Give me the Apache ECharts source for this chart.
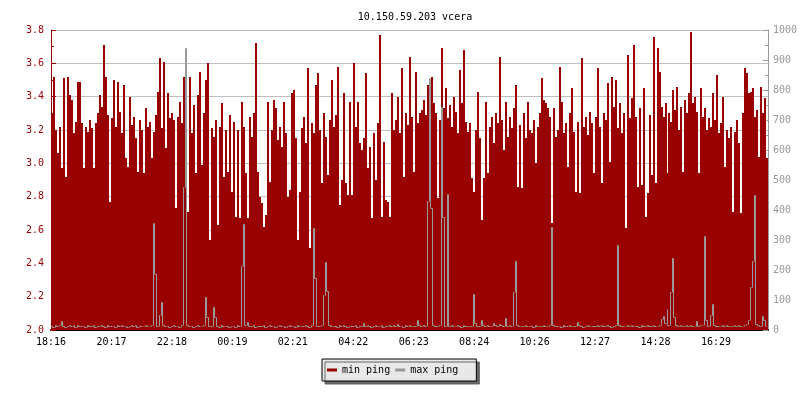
<!DOCTYPE html>
<html>
<head>
<meta charset="utf-8">
<script src="https://cdn.jsdelivr.net/npm/echarts@6/dist/echarts.min.js"></script>
<style>html,body{margin:0;padding:0;background:#fff;}#c{width:800px;height:400px;}</style>
</head>
<body>
<div id="c"></div>
<script>
const titleText = '10.150.59.203 vcera';
const seriesNames = ['min ping', 'max ping'];
const timeLabels = ['18:16','20:17','22:18','00:19','02:21','04:22','06:23','08:24','10:26','12:27','14:28','16:29'];
const stepMinutes = 4;
const labelStepMinutes = 121;
const spanMinutes = 1435;
const leftTicks = { min: 2.0, max: 3.8, interval: 0.2 };
const rightTicks = { min: 0, max: 1000, interval: 100 };

const minPing = [
3.30,3.52,3.20,3.06,3.22,2.97,3.51,2.92,3.52,3.41,
3.38,3.18,3.25,3.49,3.49,3.24,2.97,3.22,3.19,3.26,
3.21,2.97,3.24,3.30,3.41,3.34,3.71,3.52,3.29,2.77,
3.27,3.50,3.22,3.49,3.31,3.18,3.47,3.03,2.98,3.40,
3.23,3.28,3.15,2.95,3.26,3.20,2.94,3.33,3.22,3.25,
3.03,3.19,3.29,3.43,3.63,3.21,3.61,3.09,3.42,3.27,
3.30,3.26,2.73,3.28,3.37,3.24,3.52,3.47,2.71,3.52,
3.18,3.35,2.94,3.41,3.55,2.99,3.30,3.50,3.60,2.54,
3.21,3.16,3.26,2.63,3.22,3.36,2.92,3.20,2.95,3.29,
2.83,3.25,2.68,3.20,2.67,3.37,3.22,2.94,2.67,3.28,
3.16,3.30,3.72,2.95,2.80,2.76,2.62,2.69,3.37,2.89,
3.20,3.38,3.33,3.14,3.22,3.10,3.37,3.18,2.80,2.84,
3.42,3.44,3.15,2.54,2.83,3.21,3.28,3.12,3.57,2.49,
3.24,3.18,3.47,3.54,3.20,2.88,3.30,3.16,2.93,3.26,
3.50,3.22,3.29,3.58,2.75,2.90,3.42,2.88,2.81,3.37,
2.81,3.60,3.22,3.37,3.12,3.08,3.15,3.54,2.97,3.10,
2.67,3.18,2.90,3.24,3.77,2.68,3.13,2.78,2.77,2.68,
3.42,3.20,3.26,3.40,3.18,3.57,2.92,3.30,3.23,3.64,
3.28,2.95,3.55,3.24,3.30,3.32,3.38,3.29,3.47,3.35,
3.52,3.36,3.30,2.79,3.26,3.69,3.33,3.45,3.27,3.35,
3.22,3.40,3.31,3.18,3.56,3.36,3.68,3.25,3.19,3.24,
2.91,2.83,3.20,3.43,3.15,2.66,2.91,3.37,2.94,3.22,
3.28,3.12,3.30,3.24,3.64,3.26,3.08,3.37,3.16,3.28,
3.21,3.33,3.47,2.86,3.23,2.85,3.30,3.15,3.37,3.20,
3.18,3.26,3.00,3.22,3.30,3.51,3.38,3.36,3.33,3.28,
2.64,3.33,3.16,3.20,3.58,3.37,3.18,3.24,2.98,3.30,
3.45,3.19,2.83,3.25,2.82,3.63,3.22,3.28,3.17,3.31,
3.24,2.94,3.28,3.57,3.22,2.88,3.30,3.26,3.48,3.01,
3.52,3.34,3.50,3.21,3.36,3.18,3.30,2.61,3.65,3.27,
3.39,3.71,3.28,2.86,3.33,2.87,3.45,2.68,2.82,3.29,
2.93,3.76,2.88,3.69,3.55,3.34,3.28,3.36,2.94,3.30,
3.25,3.44,3.32,3.46,3.20,3.34,2.95,3.38,3.30,3.42,
3.79,3.36,3.40,3.31,2.94,3.45,3.28,3.33,3.20,3.27,
3.22,3.42,3.26,3.53,3.18,3.24,3.40,2.98,3.20,3.15,
3.22,2.71,3.19,3.26,3.12,2.70,3.30,3.57,3.54,3.42,
3.43,3.45,3.28,3.32,3.04,3.46,3.30,3.39,3.03,3.18
];

const maxPing = [
10,8,12,9,14,27,11,8,10,13,
9,12,8,15,10,9,11,8,12,10,
9,14,8,11,10,12,9,8,13,10,
9,11,8,12,10,14,9,11,8,10,
13,9,12,8,10,9,11,15,9,10,
12,355,183,10,47,90,12,9,11,8,
10,12,9,11,8,14,473,937,12,9,
10,8,11,13,9,10,12,107,40,11,
9,73,40,10,8,12,9,11,10,8,
9,11,8,12,10,210,350,14,23,10,
9,12,8,11,10,9,13,8,10,12,
9,11,8,10,14,9,11,8,10,12,
9,10,8,12,9,11,10,13,9,8,
12,337,170,11,10,14,113,223,127,12,
9,11,10,8,12,9,13,10,8,11,
10,9,12,8,11,10,21,9,12,10,
8,11,14,9,10,12,8,11,9,13,
10,12,9,18,10,11,8,12,10,14,
9,11,10,30,12,9,14,11,427,837,
403,12,10,9,13,740,373,11,450,10,
12,9,11,15,10,8,12,10,9,11,
10,117,20,11,9,30,12,10,14,9,
11,20,13,10,18,12,9,37,11,14,
10,123,227,12,9,11,10,13,9,11,
10,8,12,9,11,10,13,9,11,14,
340,12,10,9,11,8,12,10,9,13,
10,11,9,22,12,10,8,11,13,9,
11,10,9,12,10,14,11,9,12,10,
8,11,13,280,12,10,9,11,14,10,
12,9,11,10,8,12,10,9,13,11,
10,12,9,11,14,33,43,20,67,15,
123,237,40,12,10,14,9,11,13,10,
12,9,11,27,10,12,14,310,30,11,
47,83,12,10,9,11,13,10,12,9,
11,10,14,9,12,10,11,13,16,30,
140,227,447,18,12,10,43,30,11,9
];

const MONO = "'DejaVu Sans Mono', monospace";
const RED = '#990000';
const GREY = '#999999';

function renderColumn(params, api) {
  const x = api.value(0), v = api.value(1);
  const tl = api.coord([x, v]);
  const br = api.coord([x + stepMinutes, leftTicks.min]);
  const cs = params.coordSys;
  const x0 = Math.round(tl[0]);
  const x1 = Math.min(Math.round(br[0]), Math.round(cs.x + cs.width));
  const y0 = Math.round(tl[1]), y1 = Math.round(br[1]);
  if (x1 <= x0) return null;
  return { type: 'rect', shape: { x: x0, y: y0, width: x1 - x0, height: y1 - y0 }, style: { fill: RED } };
}

function renderStep(params, api) {
  const x = api.value(0), v = api.value(1), pv = api.value(2), nv = api.value(3);
  const a = api.coord([x, v]);
  const b = api.coord([x + stepMinutes, v]);
  const cs = params.coordSys;
  const right = Math.round(cs.x + cs.width) - 1;
  const X = Math.round(a[0]);
  if (X >= right) return null;
  const cx = X + 0.5;
  const cx2 = Math.min(Math.round(b[0]), right) - 0.5;
  const yOf = val => Math.round(api.coord([x, val])[1]) - 0.5;
  const y = yOf(v), yp = yOf(pv), yn = yOf(nv);
  const pts = [];
  if (v > pv) { pts.push([cx, yp], [cx, y]); } else { pts.push([cx - 1, y]); }
  pts.push([cx2, y]);
  if (nv < v) pts.push([cx2, yn]);
  return { type: 'polyline', shape: { points: pts }, style: { stroke: GREY, lineWidth: 1, fill: null } };
}

const chart = echarts.init(document.getElementById('c'), null, { renderer: 'canvas' });
chart.setOption({
  animation: false,
  backgroundColor: '#ffffff',
  title: {
    text: titleText, left: 410, top: 7, textAlign: 'center',
    textStyle: { fontFamily: MONO, fontSize: 10, fontWeight: 'normal', color: '#000' }
  },
  legend: {
    data: seriesNames, left: 322, top: 359, icon: 'rect', itemWidth: 10, itemHeight: 3, itemGap: 5,
    padding: [6, 18, 6, 5], backgroundColor: '#e8e8e8', borderColor: '#000', borderWidth: 1,
    shadowColor: '#666666', shadowBlur: 0, shadowOffsetX: 3, shadowOffsetY: 3,
    textStyle: { fontFamily: MONO, fontSize: 10, color: '#000' }
  },
  grid: { left: 51, right: 30, top: 30, bottom: 70, containLabel: false },
  xAxis: {
    type: 'value', min: 0, max: spanMinutes, interval: labelStepMinutes,
    axisLine: { onZero: false, lineStyle: { color: '#000', width: 2 } },
    axisTick: { inside: true, length: 3, lineStyle: { color: '#000' } },
    splitLine: { show: false },
    axisLabel: {
      fontFamily: MONO, fontSize: 10, color: '#000', margin: 7, showMaxLabel: false,
      formatter: function (v) { const k = Math.round(v / labelStepMinutes); return (Math.abs(v - k * labelStepMinutes) < 0.01 && timeLabels[k]) ? timeLabels[k] : ''; }
    }
  },
  yAxis: [{
    type: 'value', position: 'left', min: leftTicks.min, max: leftTicks.max, interval: leftTicks.interval,
    axisLine: { show: true, lineStyle: { color: RED } },
    axisTick: { show: true, inside: true, length: 5, lineStyle: { color: RED } },
    minorTick: { show: true, splitNumber: 2, length: 3, lineStyle: { color: RED } },
    splitLine: { show: true, lineStyle: { color: '#c0c0c0', width: 1 } },
    axisLabel: { fontFamily: MONO, fontSize: 10, color: RED, margin: 7, formatter: v => v.toFixed(1) }
  }, {
    type: 'value', position: 'right', min: rightTicks.min, max: rightTicks.max, interval: rightTicks.interval,
    axisLine: { show: true, lineStyle: { color: GREY } },
    axisTick: { show: true, inside: true, length: 5, lineStyle: { color: GREY } },
    minorTick: { show: true, splitNumber: 2, length: 3, lineStyle: { color: GREY } },
    splitLine: { show: false },
    axisLabel: { fontFamily: MONO, fontSize: 10, color: GREY, margin: 5, formatter: v => String(v) }
  }],
  series: [{
    name: seriesNames[0], type: 'custom', yAxisIndex: 0, renderItem: renderColumn,
    color: RED, itemStyle: { color: RED }, silent: true, z: 2,
    encode: { x: 0, y: 1 },
    data: minPing.map((v, i) => [i * stepMinutes, v])
  }, {
    name: seriesNames[1], type: 'custom', yAxisIndex: 1, renderItem: renderStep,
    color: GREY, itemStyle: { color: GREY }, silent: true, z: 3,
    encode: { x: 0, y: 1 },
    data: maxPing.map((v, i) => [i * stepMinutes, v,
      i > 0 ? maxPing[i - 1] : v,
      i < maxPing.length - 1 ? maxPing[i + 1] : v])
  }]
});
</script>
</body>
</html>
